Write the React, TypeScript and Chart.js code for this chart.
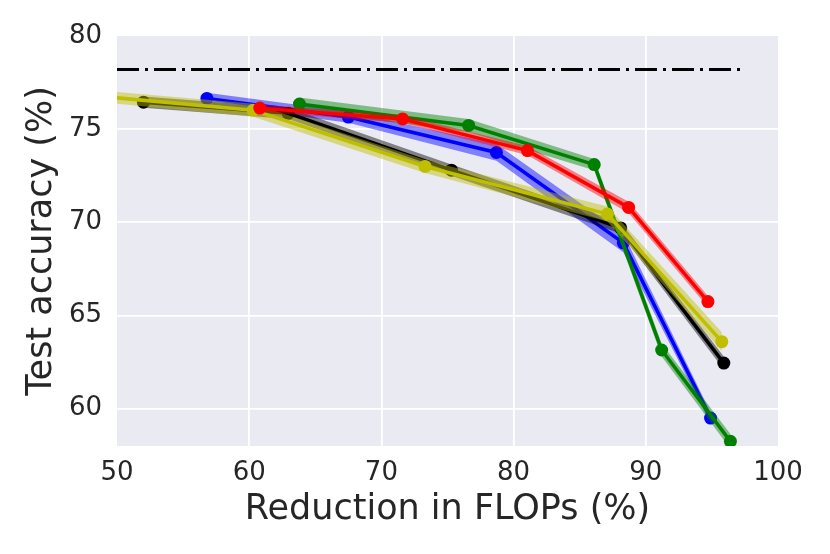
import React, { useEffect, useRef } from "react";
import Chart from "chart.js/auto";

// axis ticks
const xTicks = [50, 60, 70, 80, 90, 100];
const yTicks = [60, 65, 70, 75, 80];

// dash-dot reference (unpruned accuracy)
const baselineX = [50, 97.3];
const baselineY = [78.2, 78.2];

// series: mean and half-width of shaded band
const blueX = [56.8, 67.5, 78.7, 88.3, 94.9];
const blueY = [76.65, 75.65, 73.75, 68.9, 59.5];
const blueErr = [0.3, 0.3, 0.45, 0.5, 0.3];

const redX = [60.8, 71.6, 81.05, 88.7, 94.7];
const redY = [76.13, 75.55, 73.85, 70.8, 65.75];
const redErr = [0.2, 0.2, 0.25, 0.3, 0.3];

const greenX = [63.8, 76.6, 86.1, 91.2, 96.4];
const greenY = [76.35, 75.2, 73.1, 63.15, 58.25];
const greenErr = [0.35, 0.35, 0.3, 0.35, 0.4];

const blackX = [52.0, 62.95, 75.3, 88.1, 95.9];
const blackY = [76.45, 75.85, 72.8, 69.7, 62.45];
const blackErr = [0.3, 0.3, 0.3, 0.3, 0.35];

const yellowX = [45.0, 60.3, 73.3, 87.1, 95.75];
const yellowY = [77.0, 76.02, 73.0, 70.45, 63.6];
const yellowErr = [0.3, 0.35, 0.35, 0.4, 0.5];

const FONT = "'DejaVu Sans', sans-serif";
const TEXT = "#262626";

function pts(xs: number[], ys: number[], off: number[] = [], sign = 0) {
  return xs.map((x, i) => ({ x, y: ys[i] + sign * (off[i] || 0) }));
}

function series(xs: number[], ys: number[], err: number[], color: string, band: string, order: number) {
  return [
    {
      data: pts(xs, ys, err, -1),
      borderColor: "rgba(0,0,0,0)",
      borderWidth: 1,
      pointRadius: 0,
      fill: false,
      order: order + 0.5,
    },
    {
      data: pts(xs, ys, err, 1),
      borderColor: "rgba(0,0,0,0)",
      borderWidth: 1,
      pointRadius: 0,
      backgroundColor: band,
      fill: "-1",
      order: order + 0.5,
    },
    {
      data: pts(xs, ys),
      borderColor: color,
      backgroundColor: color,
      borderWidth: 3.5,
      pointRadius: 6.5,
      pointBorderWidth: 0,
      pointBackgroundColor: color,
      fill: false,
      order,
    },
  ];
}

const plotBackground = {
  id: "plotBackground",
  beforeDraw(chart: any) {
    const { ctx, chartArea } = chart;
    ctx.save();
    ctx.fillStyle = "#EAEAF2";
    ctx.fillRect(chartArea.left, chartArea.top, chartArea.right - chartArea.left, chartArea.bottom - chartArea.top);
    ctx.restore();
  },
};

const App: React.FC = () => {
  const canvasRef = useRef<HTMLCanvasElement>(null);

  useEffect(() => {
    const ctx = canvasRef.current?.getContext("2d");
    if (!ctx) return;

    const chart = new Chart(ctx, {
      type: "line",
      data: {
        datasets: [
          {
            data: pts(baselineX, baselineY),
            borderColor: "#000000",
            borderWidth: 3,
            borderDash: [22, 6, 3, 6],
            pointRadius: 0,
            fill: false,
            order: 0,
          },
          ...series(redX, redY, redErr, "#FF0000", "rgba(255,0,0,0.45)", 1),
          ...series(yellowX, yellowY, yellowErr, "#BFBF00", "rgba(191,191,0,0.45)", 2),
          ...series(greenX, greenY, greenErr, "#008000", "rgba(0,128,0,0.45)", 3),
          ...series(blackX, blackY, blackErr, "#000000", "rgba(0,0,0,0.45)", 4),
          ...series(blueX, blueY, blueErr, "#0000FF", "rgba(0,0,255,0.45)", 5),
        ] as any,
      },
      options: {
        responsive: false,
        animation: false,
        layout: { padding: { top: 36, right: 52, left: 0, bottom: 0 } },
        plugins: { legend: { display: false }, tooltip: { enabled: false } },
        scales: {
          x: {
            type: "linear",
            min: 50,
            max: 100,
            afterBuildTicks: (s: any) => {
              s.ticks = xTicks.map((value) => ({ value }));
            },
            afterFit: (s: any) => {
              s.height = 108;
            },
            border: { display: false },
            grid: {
              drawTicks: false,
              lineWidth: 1.8,
              color: (c: any) =>
                c.tick && (c.tick.value === 50 || c.tick.value === 100) ? "rgba(0,0,0,0)" : "#FFFFFF",
            },
            ticks: {
              padding: 12,
              color: TEXT,
              font: { family: FONT, size: 26 },
              maxRotation: 0,
            },
            title: {
              display: true,
              text: "Reduction in FLOPs (%)",
              color: TEXT,
              font: { family: FONT, size: 35, lineHeight: 1 },
              padding: { top: 0, bottom: 27 },
            },
          },
          y: {
            type: "linear",
            min: 58,
            max: 80,
            afterBuildTicks: (s: any) => {
              s.ticks = yTicks.map((value) => ({ value }));
            },
            afterFit: (s: any) => {
              s.width = 117;
            },
            border: { display: false },
            grid: {
              drawTicks: false,
              lineWidth: 1.8,
              color: (c: any) => (c.tick && c.tick.value === 80 ? "rgba(0,0,0,0)" : "#FFFFFF"),
            },
            ticks: {
              padding: 15,
              color: TEXT,
              font: { family: FONT, size: 26 },
            },
            title: {
              display: true,
              text: "Test accuracy (%)",
              color: TEXT,
              font: { family: FONT, size: 35, lineHeight: 1 },
              padding: { top: 24, bottom: 0 },
            },
          },
        },
      },
      plugins: [plotBackground],
    });

    return () => {
      chart.destroy();
    };
  }, []);

  return (
    <div style={{ position: "absolute", left: 0, top: 0, width: 830, height: 554, background: "#FFFFFF" }}>
      <canvas ref={canvasRef} width={830} height={554} />
    </div>
  );
};

export default App;
